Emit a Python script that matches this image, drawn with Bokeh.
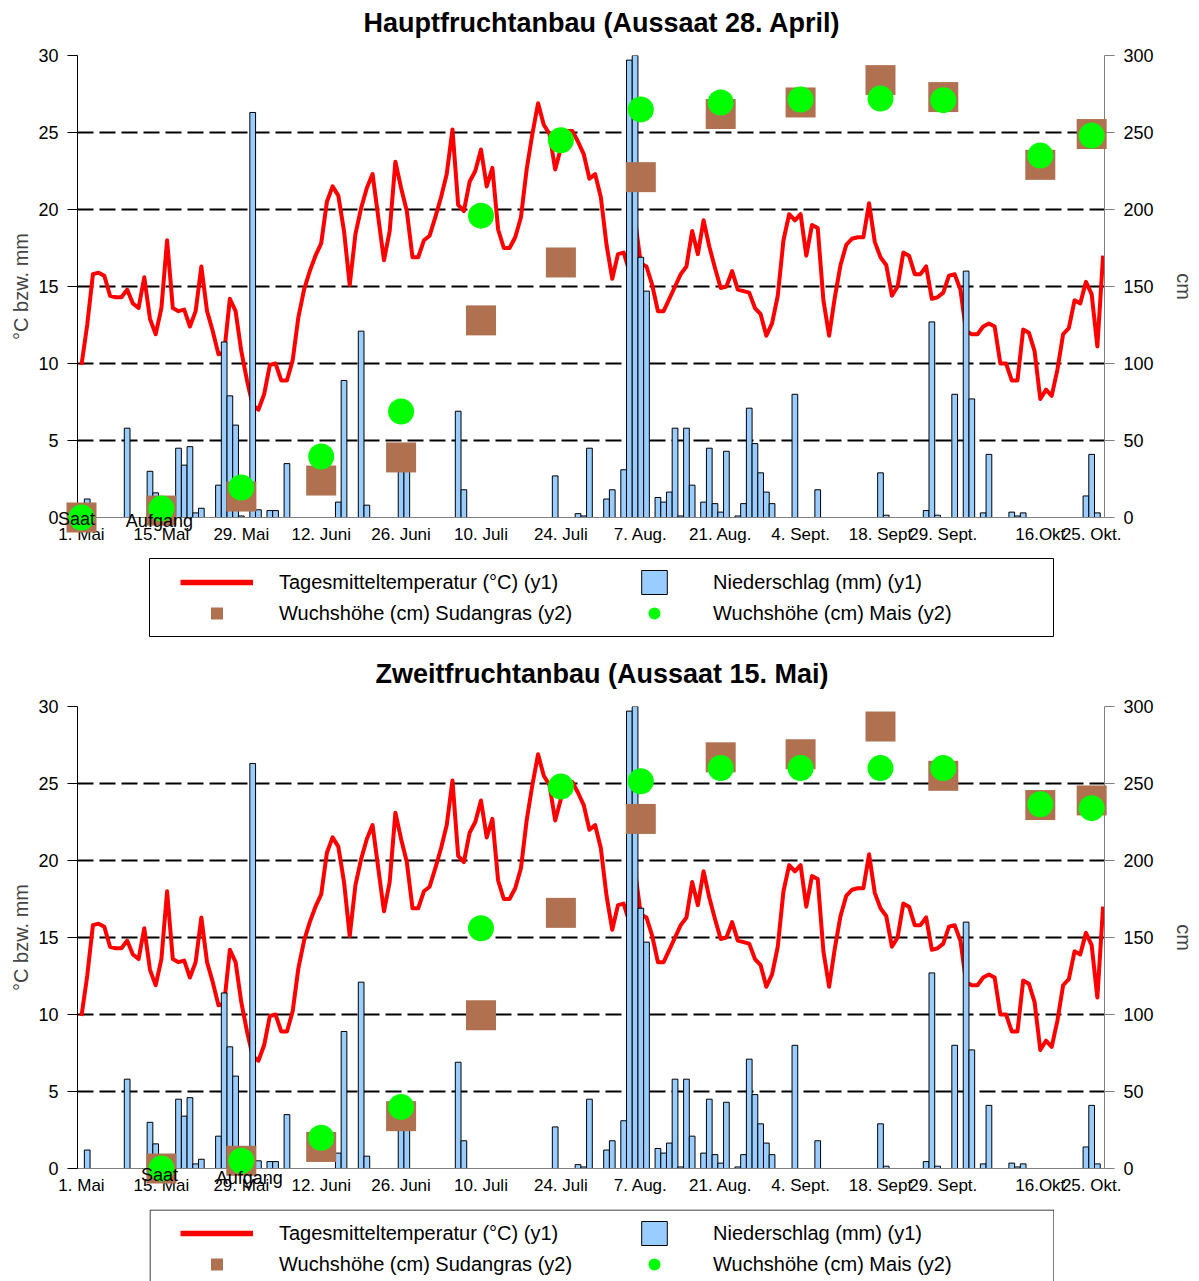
from bokeh.plotting import figure
from bokeh.models import (Range1d, LinearAxis, FixedTicker, Legend, LegendItem, Spacer,
                          BoxAnnotation)
from bokeh.layouts import column, row
from bokeh.embed import file_html
from bokeh.resources import INLINE
from bokeh.core.properties import value

# Daily mean temperature (°C), 1 May = day 0
temp_c = [
    9.9, 12.5, 15.8, 15.9, 15.7, 14.4, 14.3, 14.3, 14.8, 13.9,
    13.6, 15.6, 12.9, 11.9, 13.6, 18.0, 13.6, 13.4, 13.5, 12.4,
    13.4, 16.3, 13.4, 12.1, 10.6, 10.7, 14.2, 13.4, 10.8, 8.9,
    7.3, 7.0, 8.0, 9.9, 10.0, 8.9, 8.9, 10.2, 13.0, 14.8,
    16.0, 17.0, 17.8, 20.5, 21.5, 20.9, 18.6, 15.1, 18.4, 20.1,
    21.4, 22.3, 19.5, 16.7, 18.6, 23.1, 21.4, 19.9, 16.9, 16.9,
    18.0, 18.3, 19.5, 20.8, 22.3, 25.2, 20.3, 19.9, 21.8, 22.5,
    23.9, 21.5, 22.7, 18.7, 17.5, 17.5, 18.2, 19.5, 22.6, 24.9,
    26.9, 25.5, 24.9, 22.6, 24.0, 25.1, 25.1, 24.4, 23.6, 22.0,
    22.3, 20.8, 17.7, 15.5, 17.1, 17.2, 16.0, 19.3, 16.5, 16.3,
    15.1, 13.4, 13.4, 14.2, 15.0, 15.8, 16.3, 18.6, 17.1, 19.3,
    17.6, 16.2, 14.9, 15.0, 16.0, 14.8, 14.7, 14.6, 13.6, 13.2,
    11.8, 12.6, 14.4, 18.0, 19.7, 19.3, 19.7, 17.0, 19.0, 18.8,
    14.1, 11.8, 14.3, 16.4, 17.7, 18.1, 18.2, 18.2, 20.4, 17.9,
    16.9, 16.4, 14.4, 15.0, 17.2, 17.0, 15.8, 15.8, 16.3, 14.2,
    14.3, 14.6, 15.7, 15.8, 14.8, 12.1, 11.9, 11.9, 12.4, 12.6,
    12.4, 10.0, 10.0, 8.9, 8.9, 12.2, 12.0, 10.8, 7.7, 8.3,
    7.9, 9.6, 11.9, 12.3, 14.1, 13.9, 15.3, 14.5, 11.1, 17.0,
]
temp_days = list(range(len(temp_c)))

# Daily precipitation (mm)
precip_days = [
    1, 8, 12, 13, 16, 17, 18, 19, 20, 21,
    24, 25, 26, 27, 28, 30, 31, 33, 34, 36,
    45, 46, 49, 50, 56, 57, 66, 67, 83, 87,
    88, 89, 92, 93, 95, 96, 97, 98, 99, 101,
    102, 103, 104, 105, 106, 107, 109, 110, 111, 112,
    113, 115, 116, 117, 118, 119, 120, 121, 125, 129,
    140, 141, 148, 149, 150, 153, 155, 156, 158, 159,
    163, 164, 165, 176, 177, 178,
]
precip_mm = [
    1.2, 5.8, 3.0, 1.6, 0.9, 4.5, 3.4, 4.6, 0.3, 0.6,
    2.1, 11.4, 7.9, 6.0, 0.1, 26.3, 0.5, 0.45, 0.45, 3.5,
    1.0, 8.9, 12.1, 0.8, 3.0, 3.0, 6.9, 1.8, 2.7, 0.25,
    0.1, 4.5, 1.2, 1.8, 3.1, 29.7, 30.1, 16.9, 14.7, 1.3,
    1.0, 1.65, 5.8, 0.1, 5.8, 2.1, 1.0, 4.5, 0.9, 0.35,
    4.3, 0.1, 0.9, 7.1, 4.8, 2.9, 1.65, 0.9, 8.0, 1.8,
    2.9, 0.15, 0.45, 12.7, 0.15, 8.0, 16.0, 7.7, 0.3, 4.1,
    0.35, 0.1, 0.3, 1.4, 4.1, 0.3,
]

# Measurement dates (x-axis ticks)
tick_days = [0, 14, 28, 42, 56, 70, 84, 98, 112, 126, 140, 151, 168, 177]
tick_labels = ["1. Mai", "15. Mai", "29. Mai", "12. Juni", "26. Juni", "10. Juli",
               "24. Juli", "7. Aug.", "21. Aug.", "4. Sept.", "18. Sept", "29. Sept.",
               "16.Okt", "25. Okt."]

# Plant height (cm), main crop sown 28 April
haupt_days = tick_days
haupt_sudangras = [0, 4.5, 13.6, 24, 39, 128, 165.6, 221, 262, 269.5, 284, 273, 229, 249]
haupt_mais = [0, 5.8, 19.5, 39.6, 68.8, 196, 245, 265, 269.5, 271.4, 272, 271, 235, 248]
haupt_event_days = [0, 14]

# Plant height (cm), second crop sown 15 May
zweit_days = tick_days[1:]
zweit_sudangras = [0, 5, 14, 34, 99.5, 166, 227, 267, 269, 287, 255, 236, 239]
zweit_mais = [0, 5, 20, 40, 156, 248, 251.5, 260, 260, 260, 260, 236.5, 234]
zweit_event_days = [14, 28]

event_names = ["Saat", "Aufgang"]

FONT = "Liberation Sans"
RED = "#FF0000"
BLUE = "#99CCFF"
BROWN = "#AF7150"
GREEN = "#00FF00"


def make_panel(title, g_days, sudangras, mais, ev_days, ev_dx, ev_dy):
    xr = Range1d(-0.7, 179.25)
    yr = Range1d(0, 30)
    p = figure(width=1199, height=558, x_range=xr, y_range=yr,
               output_backend="svg", toolbar_location=None,
               min_border_left=77, min_border_right=95, min_border_top=55, min_border_bottom=41)
    p.extra_y_ranges = {"cm": Range1d(0, 300)}
    p.outline_line_color = None

    xa = p.xaxis[0]
    xa.ticker = FixedTicker(ticks=tick_days)
    xa.major_label_overrides = {d: s for d, s in zip(tick_days, tick_labels)}
    xa.major_tick_out = 0
    xa.major_tick_in = 0
    xa.minor_tick_out = 0
    xa.minor_tick_in = 0
    xa.axis_line_color = "#808080"
    xa.major_label_text_font = FONT
    xa.major_label_text_font_size = "17px"
    xa.major_label_text_color = "black"
    xa.major_label_standoff = 7
    p.xgrid.visible = False

    ya = p.yaxis[0]
    ya.ticker = FixedTicker(ticks=[0, 5, 10, 15, 20, 25, 30])
    ya.axis_label = "°C bzw. mm"
    ya.axis_label_text_font = FONT
    ya.axis_label_text_font_size = "20px"
    ya.axis_label_text_font_style = "normal"
    ya.axis_label_standoff = 3
    ya.major_label_text_font = FONT
    ya.major_label_text_font_size = "18px"
    ya.major_label_text_color = "black"
    ya.major_label_standoff = 9
    ya.major_tick_out = 10
    ya.major_tick_in = 0
    ya.minor_tick_out = 0
    ya.minor_tick_in = 0
    ya.axis_line_color = "black"
    ya.major_tick_line_color = "black"

    ra = LinearAxis(y_range_name="cm", ticker=FixedTicker(ticks=[0, 50, 100, 150, 200, 250, 300]),
                    axis_label="cm")
    ra.axis_label_text_font = FONT
    ra.axis_label_text_font_size = "20px"
    ra.axis_label_text_font_style = "normal"
    ra.axis_label_standoff = 16
    ra.major_label_text_font = FONT
    ra.major_label_text_font_size = "18px"
    ra.major_label_text_color = "black"
    ra.major_label_standoff = 9
    ra.major_tick_out = 10
    ra.major_tick_in = 0
    ra.minor_tick_out = 0
    ra.minor_tick_in = 0
    ra.axis_line_color = "#808080"
    ra.major_tick_line_color = "#808080"
    p.add_layout(ra, "right")

    p.ygrid.ticker = FixedTicker(ticks=[5, 10, 15, 20, 25, 30])
    p.ygrid.grid_line_color = "black"
    p.ygrid.grid_line_width = 2
    p.ygrid.grid_line_dash = "16 6"

    p.line(temp_days, temp_c, line_color=RED, line_width=4, line_join="round")
    p.vbar(x=precip_days, top=precip_mm, width=1.0, bottom=0,
           fill_color=BLUE, line_color="black", line_width=1)
    # growth markers and event labels may extend past the frame edge
    p.scatter(g_days, sudangras, marker="square", size=30, fill_color=BROWN,
              line_color=None, y_range_name="cm", level="overlay")
    p.scatter(g_days, mais, marker="circle", size=26, fill_color=GREEN,
              line_color=None, y_range_name="cm", level="overlay")
    p.text(x=ev_days, y=[0] * len(ev_days), text=event_names, text_font=value(FONT),
           text_font_size="18px", text_color="black", text_align="center",
           text_baseline="middle", x_offset=ev_dx, y_offset=ev_dy, level="overlay")

    # heading above the frame: centred on the frame top, nudged up and slightly right
    p.text(x=[(xr.start + xr.end) / 2], y=[yr.end], text=[title], text_font=value(FONT),
           text_font_size="27px", text_font_style="bold", text_color="black",
           text_align="center", text_baseline="middle", x_offset=11, y_offset=-33,
           level="overlay")
    return p


def make_legend(h, closed=True):
    lf = figure(width=905, height=h, x_range=Range1d(0, 905), y_range=Range1d(0, h),
                output_backend="svg", toolbar_location=None,
                x_axis_location=None, y_axis_location=None, min_border=0)
    lf.xgrid.visible = False
    lf.ygrid.visible = False
    if closed:
        lf.outline_line_color = "black"
        lf.outline_line_width = 1
    else:
        # frame whose lower edge lies beyond the page bottom
        lf.outline_line_color = None
        lf.add_layout(BoxAnnotation(left=0.5, right=904.5, top=h - 0.5, bottom=-40,
                                    fill_alpha=0, line_color="black", line_alpha=1,
                                    line_width=1, level="overlay"))
    r_line = lf.line(temp_days, temp_c, line_color=RED, line_width=5.5, visible=False)
    r_bar = lf.vbar(x=precip_days, top=precip_mm, width=1.0, fill_color=BLUE,
                    line_color="black", line_width=1, visible=False)
    r_sq = lf.scatter(haupt_days, haupt_sudangras, marker="square", fill_color=BROWN,
                      line_color=None, visible=False)
    r_ci = lf.scatter(haupt_days, haupt_mais, marker="circle", fill_color=GREEN,
                      line_color=None, visible=False)
    common = dict(orientation="vertical", glyph_height=30, spacing=1, padding=0, margin=0,
                  border_line_color=None, background_fill_alpha=0,
                  label_text_font=FONT, label_text_font_size="20px", label_text_color="black")
    leg_a = Legend(items=[LegendItem(label="Tagesmitteltemperatur (°C) (y1)", renderers=[r_line]),
                          LegendItem(label="Wuchshöhe (cm) Sudangras (y2)", renderers=[r_sq])],
                   location=(31, h - 70), glyph_width=73, label_standoff=26, **common)
    leg_b = Legend(items=[LegendItem(label="Niederschlag (mm) (y1)", renderers=[r_bar]),
                          LegendItem(label="Wuchshöhe (cm) Mais (y2)", renderers=[r_ci])],
                   location=(489, h - 70), glyph_width=32, label_standoff=43, **common)
    lf.add_layout(leg_a)
    lf.add_layout(leg_b)
    return lf


top = make_panel("Hauptfruchtanbau (Aussaat 28. April)", haupt_days, haupt_sudangras,
                 haupt_mais, haupt_event_days, [-5, -2], [1, 3])
bottom = make_panel("Zweitfruchtanbau (Aussaat 15. Mai)", zweit_days, zweit_sudangras,
                    zweit_mais, zweit_event_days, [-2, 8], [6, 9])

layout = column(
    top,
    row(Spacer(width=149, height=79), make_legend(79)),
    Spacer(width=1199, height=14),
    bottom,
    row(Spacer(width=149, height=73), make_legend(73, closed=False)),
)

open("out.html", "w").write(file_html(layout, INLINE))
